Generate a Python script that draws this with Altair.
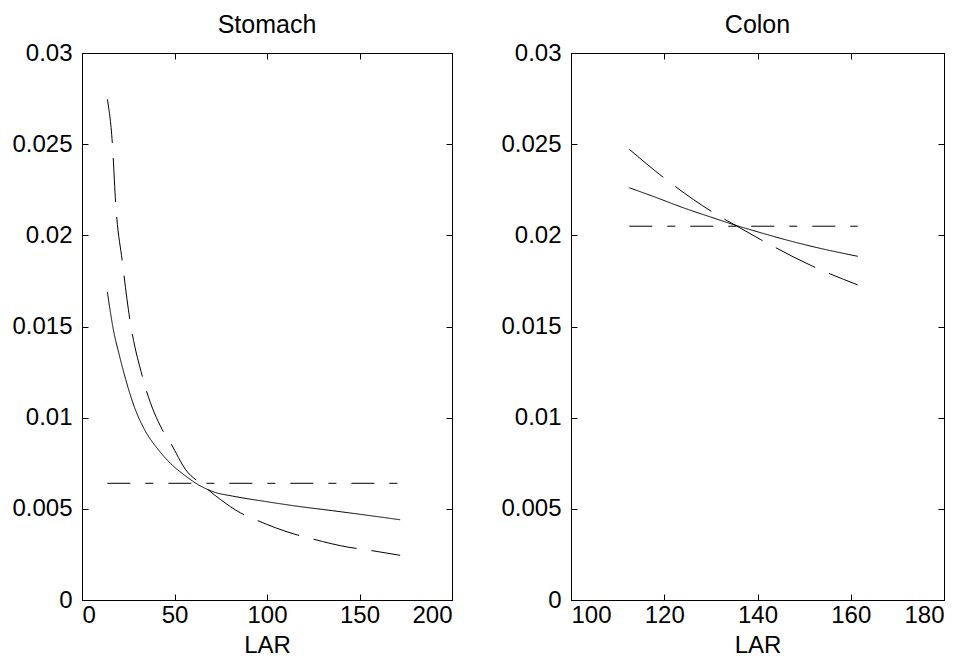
import altair as alt
import pandas as pd

# ---- data ----
stomach_solid_x = [13.7, 17, 20, 23.6, 29, 33.5, 41.6, 48.8, 56, 63.2, 72, 81.3, 99.3, 117.3, 135.3, 153.3, 172]
stomach_solid_y = [0.0169, 0.0148, 0.0135, 0.0121, 0.0104, 0.0094, 0.0082, 0.0074, 0.0068, 0.0063, 0.0059, 0.0057, 0.0054, 0.00513, 0.0049, 0.00466, 0.0044]

stomach_dash_x = [13.7, 16.4, 18.2, 21.8, 25.9, 32.6, 43.4, 47.9, 56, 65, 75, 85.8, 93.9, 114.6, 122.7, 144.3, 153.3, 172]
stomach_dash_y = [0.02746, 0.02505, 0.02176, 0.01855, 0.01536, 0.01227, 0.00934, 0.00861, 0.00715, 0.00632, 0.0055, 0.00477, 0.0044, 0.00362, 0.0034, 0.00289, 0.00276, 0.00245]

stomach_flat_x = [13.7, 172]
stomach_flat_y = [0.0064, 0.0064]

colon_solid_x = [112.5, 118, 124, 130, 135.6, 141, 146, 152.7, 161.5]
colon_solid_y = [0.02261, 0.0221, 0.02152, 0.0210, 0.02053, 0.02012, 0.01976, 0.01933, 0.01885]

colon_dash_x = [112.5, 119.8, 130.2, 135.6, 140.6, 151.7, 161.5]
colon_dash_y = [0.02472, 0.02318, 0.0213, 0.0205, 0.01978, 0.01832, 0.01728]

colon_flat_x = [112.5, 161.5]
colon_flat_y = [0.0205, 0.0205]

y_ticks = [0, 0.005, 0.01, 0.015, 0.02, 0.025, 0.03]
stomach_x_ticks = [0, 50, 100, 150, 200]
colon_x_ticks = [100, 120, 140, 160, 180]

series_names = ["solid", "dashed", "dashdot"]
series_dash = [[1, 0], [44, 15], [23, 15, 8, 15]]


def frame(xs, ys, name):
    return pd.DataFrame({"x": xs, "y": ys, "series": name})


stomach_df = pd.concat([
    frame(stomach_solid_x, stomach_solid_y, "solid"),
    frame(stomach_dash_x, stomach_dash_y, "dashed"),
    frame(stomach_flat_x, stomach_flat_y, "dashdot"),
])
colon_df = pd.concat([
    frame(colon_solid_x, colon_solid_y, "solid"),
    frame(colon_dash_x, colon_dash_y, "dashed"),
    frame(colon_flat_x, colon_flat_y, "dashdot"),
])

FONT = "Liberation Sans"
TICK = 6
LBL = 24


def panel(df, title, xdom, xticks, width):
    xs = alt.Scale(domain=xdom, nice=False, zero=False)
    ys = alt.Scale(domain=[0, 0.03], nice=False)
    dash = alt.StrokeDash("series:N", scale=alt.Scale(domain=series_names, range=series_dash), legend=None)
    main = alt.Chart(df).mark_line(color="black", strokeWidth=1, interpolate="monotone").encode(
        x=alt.X("x:Q", scale=xs, title="LAR",
                axis=alt.Axis(orient="bottom", values=xticks, offset=-TICK, tickSize=TICK, domain=False,
                              grid=False, labelPadding=3, titlePadding=6, format="d")),
        y=alt.Y("y:Q", scale=ys, title=None,
                axis=alt.Axis(orient="left", values=y_ticks, offset=-TICK, tickSize=TICK, domain=False,
                              grid=False, labelPadding=10, format="~g")),
        strokeDash=dash,
        detail="series:N",
    )
    mirror = alt.Chart(df).mark_line(opacity=0).encode(
        x=alt.X("x:Q", scale=xs, title=None,
                axis=alt.Axis(orient="top", values=xticks, offset=-TICK, tickSize=TICK, domain=False,
                              grid=False, labels=False)),
        y=alt.Y("y:Q", scale=ys, title=None,
                axis=alt.Axis(orient="right", values=y_ticks, offset=-TICK, tickSize=TICK, domain=False,
                              grid=False, labels=False)),
        detail="series:N",
    )
    return alt.layer(main, mirror).resolve_axis(x="independent", y="independent").properties(
        width=width, height=547,
        title=alt.TitleParams(title, fontSize=25, font=FONT, fontWeight="normal", offset=3, color="black"),
    )


left = panel(stomach_df, "Stomach", [0, 200], stomach_x_ticks, 370)
right = panel(colon_df, "Colon", [100, 180], colon_x_ticks, 373)

chart = alt.hconcat(left, right, spacing=47).configure(
    padding={"left": 3, "top": 4, "right": 0, "bottom": 0},
    font=FONT,
).configure_view(
    stroke="black", strokeWidth=1,
).configure_axis(
    labelFont=FONT, labelFontSize=LBL, labelColor="black", titleFont=FONT, titleFontSize=LBL,
    titleFontWeight="normal", titleColor="black", tickColor="black", tickWidth=1,
)

chart.save("out.html", embed_options={"renderer": "svg", "actions": False})
